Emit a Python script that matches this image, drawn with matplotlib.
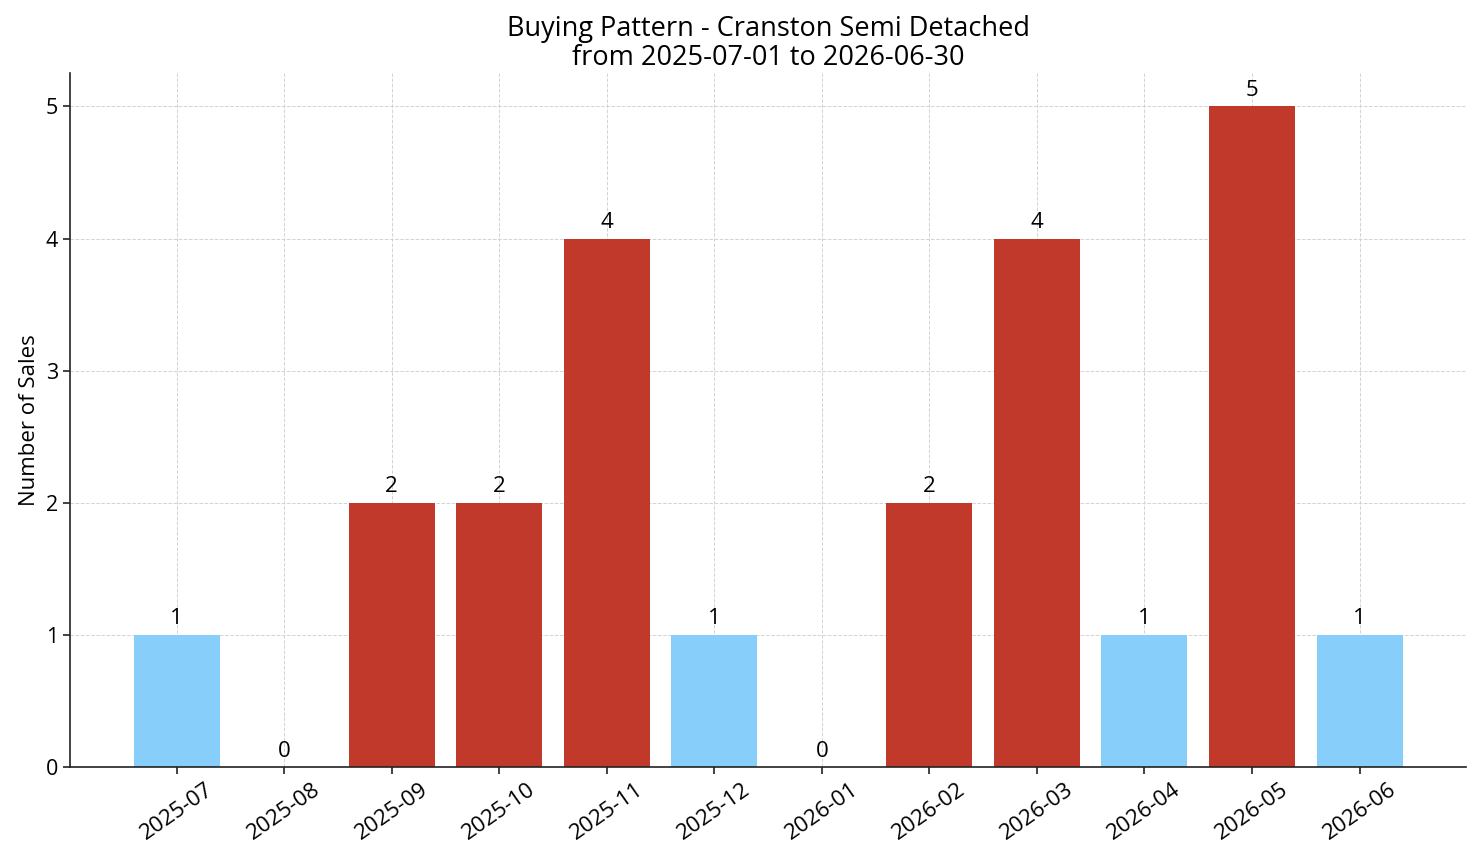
import matplotlib
matplotlib.use("Agg")
import matplotlib.pyplot as plt

plt.rcParams["font.family"] = ["Open Sans", "DejaVu Sans"]

months = ["2025-07", "2025-08", "2025-09", "2025-10", "2025-11", "2025-12",
          "2026-01", "2026-02", "2026-03", "2026-04", "2026-05", "2026-06"]
sales = [1, 0, 2, 2, 4, 1, 0, 2, 4, 1, 5, 1]

RED = "#c0392b"
BLUE = "#87cefa"
colors = [RED if v >= 2 else BLUE for v in sales]

fig = plt.figure(figsize=(14.81, 8.63), dpi=100)
ax = fig.add_axes([0.0473, 0.111, 0.9426, 0.804])
x = list(range(len(months)))
bars = ax.bar(x, sales, width=0.8, color=colors, zorder=2)
for xi, v in zip(x, sales):
    ax.annotate(str(v), (xi, v), xytext=(0, 4), textcoords="offset points",
                ha="center", va="bottom", fontsize=16)
ax.set_xticks(x)
ax.set_xticklabels(months, rotation=35, fontsize=16)
ax.tick_params(axis="both", width=1.2, length=5, color="#222222")
ax.tick_params(axis="y", labelsize=15.5)
ax.set_ylabel("Number of Sales", fontsize=16)
ax.set_title("Buying Pattern - Cranston Semi Detached\nfrom 2025-07-01 to 2026-06-30",
             fontsize=19.5, linespacing=1.05)
ax.grid(True, linestyle="--", color="#d3d3d3", linewidth=0.7, zorder=0)
ax.set_axisbelow(True)
ax.spines["top"].set_visible(False)
ax.spines["right"].set_visible(False)
for s in ("left", "bottom"):
    ax.spines[s].set_linewidth(1.2)
    ax.spines[s].set_color("#222222")
fig.savefig("out.png", dpi=100)
